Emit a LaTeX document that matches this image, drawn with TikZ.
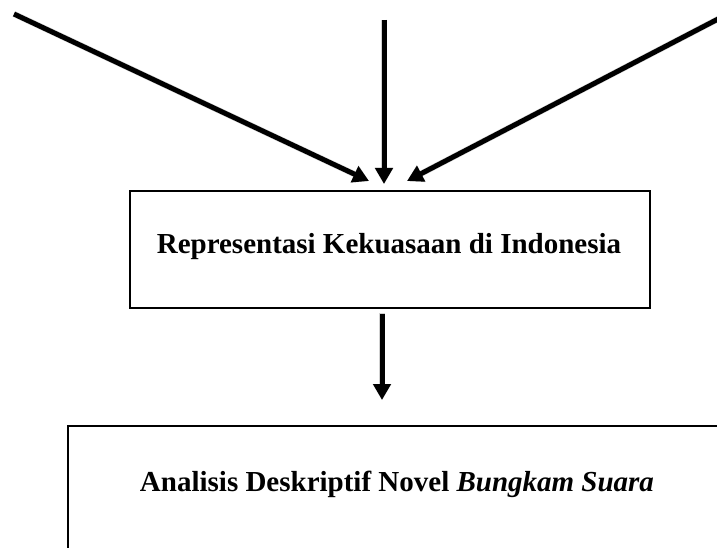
\documentclass[tikz,border=0pt]{standalone}
\usepackage{fontspec}
\setmainfont{Liberation Serif}
\usetikzlibrary{arrows.meta}
\begin{document}
\begin{tikzpicture}[x=1pt,y=-1pt,
  boxstyle/.style={draw=black,line width=2.2pt,fill=white,inner sep=0pt},
  txt/.style={font=\fontsize{29}{34}\selectfont\bfseries,anchor=base,inner sep=0pt},
  arr/.style={line width=5pt,-{Triangle[length=16pt,width=17pt]}},
  shade/.style={line width=6pt,draw=black!18,-{Triangle[length=16pt,width=18pt]}}]
\useasboundingbox (0,0) rectangle (717,548);
\clip (0,0) rectangle (717,548);
% boxes
\node[boxstyle,minimum width=520pt,minimum height=117pt] (mid) at (390,249.5) {};
\node[boxstyle,minimum width=700pt,minimum height=160pt] (bot) at (418,506) {};
\node[txt] (midtext) at (389,253) {Representasi Kekuasaan di Indonesia};
\node[txt] (bottext) at (397,491) {Analisis Deskriptif Novel \textit{Bungkam Suara}};
% arrow ends
\coordinate (sA) at (14,14);
\coordinate (tA) at (369,181);
\coordinate (sB) at (384,20);
\coordinate (tB) at (384,184);
\coordinate (sC) at (720,18);
\coordinate (tC) at (407,181);
\coordinate (sD) at (382,313);
\coordinate (tD) at (382,400);
% shadows
\begin{scope}[shift={(1.5,2.5)}]
\draw[shade] (sA) -- (tA);
\draw[shade] (sB) -- (tB);
\draw[shade] (sC) -- (tC);
\draw[shade] (sD) -- (tD);
\end{scope}
\draw[arr] (sA) -- (tA);
\draw[arr] (sB) -- (tB);
\draw[arr] (sC) -- (tC);
\draw[arr] (mid.south -| sD) ++(0,5) coordinate (sD2) -- (tD);
\end{tikzpicture}
\end{document}
